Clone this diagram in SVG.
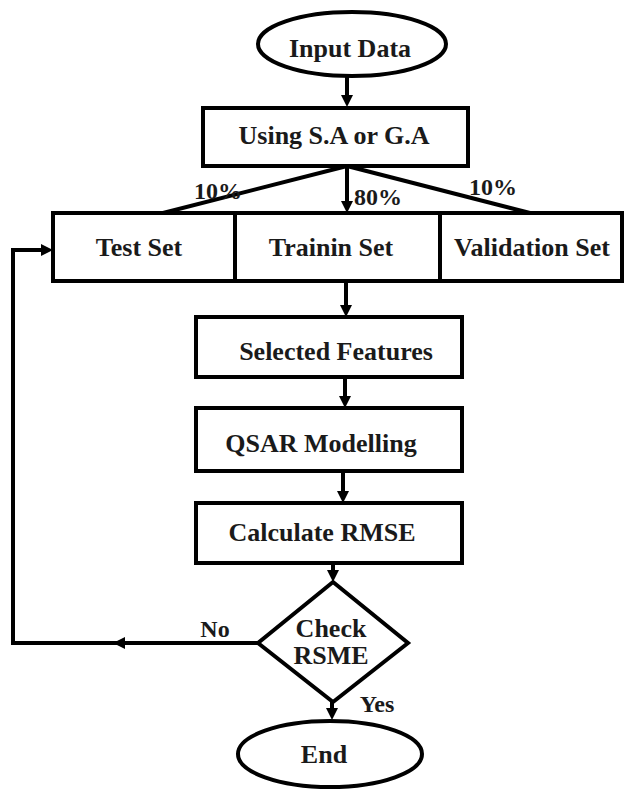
<svg xmlns="http://www.w3.org/2000/svg" width="626" height="789" viewBox="0 0 626 789">
<defs>
<style>
.shape{fill:#fff;stroke:#000;stroke-width:4}
.line{fill:none;stroke:#000;stroke-width:4}
.t{font-family:"Liberation Serif","Times New Roman",serif;font-weight:bold;font-size:26px;fill:#1a1a1a;text-anchor:middle}
.lbl{font-family:"Liberation Serif","Times New Roman",serif;font-weight:bold;font-size:24px;fill:#1a1a1a;text-anchor:middle}
</style>
<marker id="ah" markerUnits="userSpaceOnUse" markerWidth="12" markerHeight="12" refX="2" refY="6" orient="auto">
<path d="M0,0 L12,6 L0,12 z" fill="#000"/>
</marker>
</defs>
<rect width="626" height="789" fill="#fff"/>
<g id="connectors">
<path class="line" d="M347,76 V97" marker-end="url(#ah)"/>
<path class="line" d="M347,166 L163,213"/>
<path class="line" d="M347,166 L530,213"/>
<path class="line" d="M347,166 V203" marker-end="url(#ah)"/>
<path class="line" d="M346,281 V307" marker-end="url(#ah)"/>
<path class="line" d="M345,377 V398" marker-end="url(#ah)"/>
<path class="line" d="M343,471 V493" marker-end="url(#ah)"/>
<path class="line" d="M333,563 V572" marker-end="url(#ah)"/>
<path class="line" d="M332,700 V710" marker-end="url(#ah)"/>
<path class="line" d="M258,643 H123" marker-end="url(#ah)"/>
<path class="line" d="M125,643 H13 V250 H43" marker-end="url(#ah)"/>
<text class="lbl" x="218" y="199">10%</text>
<text class="lbl" x="378" y="205">80%</text>
<text class="lbl" x="493" y="195">10%</text>
<text class="lbl" x="215" y="637">No</text>
<text class="lbl" x="377" y="712">Yes</text>
</g>
<g id="input-data">
<ellipse class="shape" cx="352" cy="44" rx="94" ry="32"/>
<text class="t" x="350" y="57">Input Data</text>
</g>
<g id="using-sa-ga">
<rect class="shape" x="203" y="108" width="265" height="58"/>
<text class="t" x="334" y="144">Using S.A or G.A</text>
</g>
<g id="test-set">
<rect class="shape" x="53" y="213" width="182" height="68"/>
<text class="t" x="139" y="256">Test Set</text>
</g>
<g id="training-set">
<rect class="shape" x="235" y="213" width="205" height="68"/>
<text class="t" x="331" y="256">Trainin Set</text>
</g>
<g id="validation-set">
<rect class="shape" x="440" y="213" width="182" height="68"/>
<text class="t" x="532" y="256">Validation Set</text>
</g>
<g id="selected-features">
<rect class="shape" x="196" y="317" width="266" height="60"/>
<text class="t" x="336" y="360">Selected Features</text>
</g>
<g id="qsar-modelling">
<rect class="shape" x="196" y="408" width="266" height="63"/>
<text class="t" x="321" y="452">QSAR Modelling</text>
</g>
<g id="calculate-rmse">
<rect class="shape" x="196" y="503" width="266" height="60"/>
<text class="t" x="322" y="541">Calculate RMSE</text>
</g>
<g id="check-rsme">
<path class="shape" d="M333,582 L408,643 L333,702 L258,643 Z"/>
<text class="t" x="331" y="637">Check</text>
<text class="t" x="331" y="664">RSME</text>
</g>
<g id="end">
<ellipse class="shape" cx="330" cy="754" rx="92" ry="33"/>
<text class="t" x="324" y="763">End</text>
</g>
</svg>
